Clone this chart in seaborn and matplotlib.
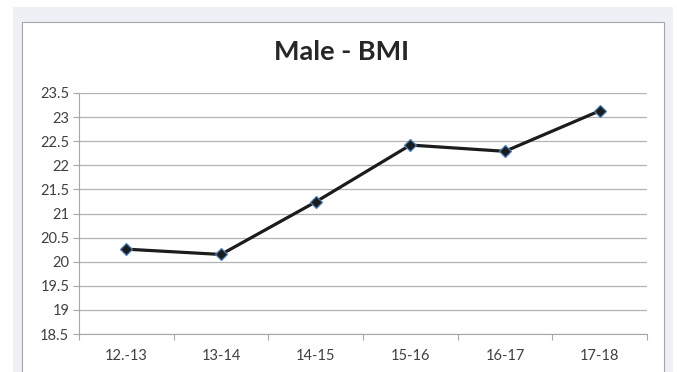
import matplotlib
matplotlib.use("Agg")
import matplotlib.pyplot as plt
from matplotlib.patches import Rectangle
from matplotlib.ticker import FixedLocator
import seaborn as sns
import pandas as pd

# School years and mean BMI values
years = ["12.-13", "13-14", "14-15", "15-16", "16-17", "17-18"]
bmi = [20.26, 20.15, 21.24, 22.42, 22.29, 23.13]
y_ticks = [18.5, 19, 19.5, 20, 20.5, 21, 21.5, 22, 22.5, 23, 23.5]

df = pd.DataFrame({"year": years, "bmi": bmi})

sns.set_theme(style="white")
plt.rcParams["font.family"] = ["Lato", "DejaVu Sans"]

W, H = 677, 372
fig = plt.figure(figsize=(W / 100, H / 100), dpi=100)
fig.patch.set_facecolor("white")

# grey panel behind the chart, and the white chart box with a thin border
fig.add_artist(Rectangle((13 / W, 0), (673 - 13) / W, (H - 7) / H,
                         transform=fig.transFigure, facecolor="#eef0f5",
                         edgecolor="none", zorder=-3))
fig.add_artist(Rectangle((22 / W, -0.05), (664 - 22) / W, (H - 22) / H + 0.05,
                         transform=fig.transFigure, facecolor="white",
                         edgecolor="#a6a6a6", linewidth=0.8, zorder=-2))

left, right, top, bottom = 79, 647, 93, 334
ax = fig.add_axes([left / W, 1 - bottom / H, (right - left) / W, (bottom - top) / H])
ax.set_facecolor("none")

sns.lineplot(data=df, x="year", y="bmi", ax=ax, color="#1c1c1c", linewidth=2.3,
             marker="D", markersize=6.5, markerfacecolor="#1c1c1c",
             markeredgecolor="#4a7ebb", markeredgewidth=0.9, sort=False)

ax.set_xlim(-0.5, len(years) - 0.5)
ax.set_ylim(y_ticks[0], y_ticks[-1])
ax.set_yticks(y_ticks)
ax.set_yticklabels([f"{v:g}" for v in y_ticks])

ax.set_xticks(range(len(years)))
ax.set_xticklabels(years)
ax.xaxis.set_minor_locator(FixedLocator([i - 0.5 for i in range(len(years) + 1)]))
ax.tick_params(axis="x", which="major", length=0, pad=11, labelsize=10.5, labelcolor="#404040")
ax.tick_params(axis="x", which="minor", length=4, width=0.8, color="#a6a6a6", direction="out")
ax.tick_params(axis="y", which="major", length=4, width=0.8, color="#a6a6a6", direction="out",
               pad=3, labelsize=10.5, labelcolor="#404040")
ax.tick_params(bottom=True, left=True, which="both")
ax.tick_params(axis="x", which="major", bottom=False)

ax.grid(axis="y", color="#b3b3b3", linewidth=0.9)
ax.grid(axis="x", visible=False)
ax.set_axisbelow(True)

for side in ("top", "right"):
    ax.spines[side].set_visible(False)
for side in ("left", "bottom"):
    ax.spines[side].set_color("#a6a6a6")
    ax.spines[side].set_linewidth(0.8)

ax.set_xlabel("")
ax.set_ylabel("")

fig.text(342 / W, 1 - 52 / H, "Male - BMI", ha="center", va="center",
         fontsize=19.5, fontweight="bold", color="#262626")

fig.savefig("out.png", dpi=100)
